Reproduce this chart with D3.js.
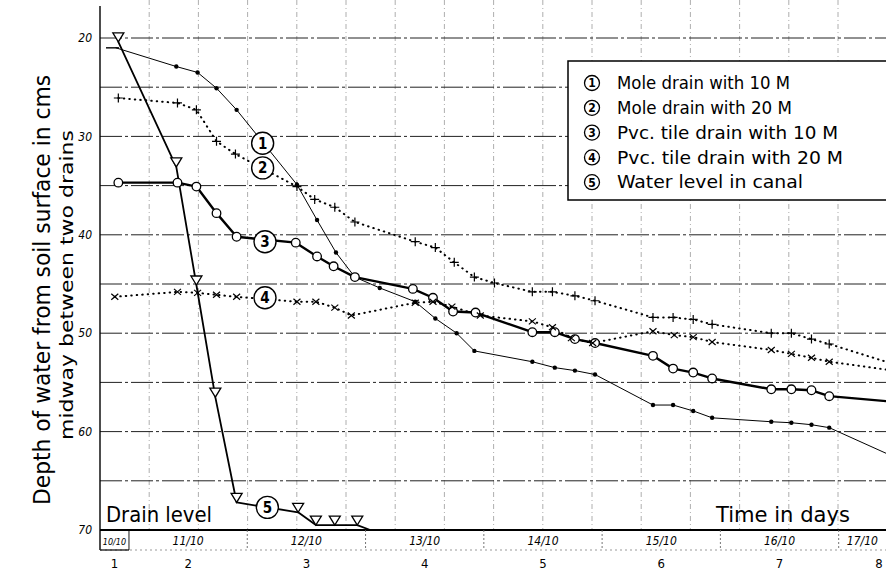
<!DOCTYPE html>
<html>
<head>
<meta charset="utf-8">
<script src="https://cdn.jsdelivr.net/npm/d3@7"></script>
<style>
body { margin: 0; background: #fff; }
svg { display: block; }
</style>
</head>
<body>
<script>
// time = day of October (fractional), depth = cm below soil surface

var mole10Time  = [10.89, 11.40, 11.58, 11.74, 11.91, 12.42, 12.59, 12.75, 12.91, 13.12, 13.42, 13.59, 13.77, 13.92, 14.41, 14.60, 14.77, 14.94, 15.43, 15.60, 15.77, 15.93, 16.43, 16.60, 16.77, 16.92, 17.40];
var mole10Depth = [21.0, 22.9, 23.5, 25.1, 27.3, 34.9, 38.5, 41.8, 44.3, 45.4, 46.8, 48.5, 50.0, 51.8, 52.9, 53.5, 53.8, 54.2, 57.3, 57.3, 57.9, 58.6, 59.0, 59.1, 59.3, 59.6, 62.2];

var mole20Time  = [10.91, 11.41, 11.57, 11.74, 11.90, 12.42, 12.57, 12.74, 12.91, 13.42, 13.59, 13.75, 13.92, 14.09, 14.41, 14.58, 14.77, 14.94, 15.43, 15.60, 15.77, 15.93, 16.43, 16.60, 16.77, 16.92, 17.40];
var mole20Depth = [26.1, 26.6, 27.3, 30.5, 31.8, 35.1, 36.4, 37.2, 38.7, 40.7, 41.3, 42.8, 44.3, 44.9, 45.8, 45.8, 46.2, 46.7, 48.4, 48.4, 48.6, 49.1, 50.0, 50.0, 50.6, 51.1, 52.9];

var pvc10Time  = [10.91, 11.41, 11.57, 11.74, 11.91, 12.41, 12.59, 12.73, 12.91, 13.40, 13.57, 13.74, 13.93, 14.41, 14.60, 14.77, 14.94, 15.43, 15.60, 15.77, 15.93, 16.43, 16.60, 16.77, 16.92, 17.40];
var pvc10Depth = [34.7, 34.7, 35.1, 37.8, 40.2, 40.8, 42.2, 43.2, 44.3, 45.5, 46.4, 47.8, 47.9, 49.9, 49.9, 50.6, 51.0, 52.3, 53.6, 54.0, 54.6, 55.7, 55.7, 55.8, 56.4, 56.9];

var pvc20Time  = [10.88, 11.41, 11.58, 11.74, 11.91, 12.42, 12.58, 12.74, 12.88, 13.42, 13.57, 13.73, 13.97, 14.41, 14.58, 14.74, 14.92, 15.43, 15.61, 15.77, 15.93, 16.43, 16.60, 16.77, 16.92, 17.40];
var pvc20Depth = [46.3, 45.8, 45.9, 46.1, 46.3, 46.8, 46.8, 47.4, 48.2, 46.9, 46.8, 47.3, 48.2, 48.8, 49.4, 50.5, 51.0, 49.8, 50.2, 50.4, 50.9, 51.7, 52.1, 52.5, 52.9, 53.7];

var canalTime  = [10.91, 11.40, 11.57, 11.73, 11.91, 12.43, 12.58, 12.74, 12.93, 13.04];
var canalDepth = [20.4, 33.1, 45.1, 56.5, 67.2, 68.2, 69.5, 69.5, 69.5, 70.0];

// numbered circles sitting on the curves
var tagTime  = [12.13, 12.13, 12.15, 12.15, 12.17];
var tagDepth = [30.7, 33.2, 40.7, 46.4, 67.7];

var legendLabels = ["Mole drain with 10 M", "Mole drain with 20 M", "Pvc. tile drain with 10 M", "Pvc. tile drain with 20 M", "Water level in canal"];
var dateLabels = ["10/10", "11/10", "12/10", "13/10", "14/10", "15/10", "16/10", "17/10"];
var dayLabels = [1, 2, 3, 4, 5, 6, 7, 8];
var depthTicks = [20, 30, 40, 50, 60, 70];

var W = 886, H = 572;
var x = d3.scaleLinear().domain([10.755, 17.40]).range([100, 886]);
var y = d3.scaleLinear().domain([20, 70]).range([38, 530]);

var svg = d3.select("body").append("svg")
    .attr("width", W)
    .attr("height", H)
    .style("font-family", "'DejaVu Sans Condensed', 'DejaVu Sans', sans-serif");

// graph paper: vertical lines every 5 cm square
var step = y(25) - y(20);
var gridX = d3.range(100 + step, W, step);
svg.append("g").selectAll("line").data(gridX).enter().append("line")
    .attr("x1", function(d) { return d; }).attr("x2", function(d) { return d; })
    .attr("y1", 0).attr("y2", y(70))
    .style("stroke", "#999").style("stroke-width", 0.8)
    .style("stroke-dasharray", "5,3,1,3");

// horizontal lines every 5 cm
svg.append("g").selectAll("line").data(d3.range(20, 70, 5)).enter().append("line")
    .attr("x1", 100).attr("x2", W)
    .attr("y1", function(d) { return y(d); }).attr("y2", function(d) { return y(d); })
    .style("stroke", "#222").style("stroke-width", 1)
    .style("stroke-dasharray", "22,3,3,3");

// left axis and drain level
svg.append("line").attr("x1", 100).attr("x2", 100).attr("y1", 6).attr("y2", y(70) + 20)
    .style("stroke", "#000").style("stroke-width", 1.4);
svg.append("line").attr("x1", 100).attr("x2", W).attr("y1", y(70)).attr("y2", y(70))
    .style("stroke", "#000").style("stroke-width", 2.2);

// date strip
var stripTop = y(70), stripBot = y(70) + 20;
svg.append("line").attr("x1", 100).attr("x2", W).attr("y1", stripBot).attr("y2", stripBot)
    .style("stroke", "#999").style("stroke-width", 1).style("stroke-dasharray", "2,3");
svg.append("line").attr("x1", 100).attr("x2", x(11)).attr("y1", stripBot).attr("y2", stripBot)
    .style("stroke", "#000").style("stroke-width", 1.2);

var dayStart = d3.range(10, 18);
svg.append("g").selectAll("line").data(dayStart.slice(1)).enter().append("line")
    .attr("x1", function(d) { return x(d); }).attr("x2", function(d) { return x(d); })
    .attr("y1", stripTop).attr("y2", stripBot)
    .style("stroke", function(d, i) { return i == 0 ? "#000" : "#666"; })
    .style("stroke-width", 0.9)
    .style("stroke-dasharray", function(d, i) { return i == 0 ? null : "2,2"; });

function cellMid(d) {
    var a = Math.max(d, x.domain()[0]), b = Math.min(d + 1, x.domain()[1]);
    return x((a + b) / 2);
}

svg.append("g").selectAll("text").data(dateLabels).enter().append("text")
    .attr("x", function(d, i) { return cellMid(dayStart[i]); })
    .attr("y", stripBot - 5)
    .attr("text-anchor", "middle")
    .style("font-size", function(d, i) { return i == 0 ? "9px" : "12px"; })
    .style("font-style", "italic")
    .text(function(d) { return d; });

svg.append("g").selectAll("text").data(dayLabels).enter().append("text")
    .attr("x", function(d, i) { return i == dayLabels.length - 1 ? W - 7 : cellMid(dayStart[i]); })
    .attr("y", 568)
    .attr("text-anchor", "middle")
    .style("font-size", "13px")
    .text(function(d) { return d; });

// depth ticks
svg.append("g").selectAll("text").data(depthTicks).enter().append("text")
    .attr("x", 92)
    .attr("y", function(d) { return y(d); })
    .attr("dy", "0.35em")
    .attr("text-anchor", "end")
    .style("font-size", "12px")
    .style("font-style", "italic")
    .text(function(d) { return d; });

// axis titles
svg.append("text")
    .attr("transform", "translate(50,290) rotate(-90)")
    .attr("text-anchor", "middle")
    .attr("textLength", 430).attr("lengthAdjust", "spacingAndGlyphs")
    .style("font-size", "23px")
    .text("Depth of water from soil surface in cms");
svg.append("text")
    .attr("transform", "translate(73,285) rotate(-90)")
    .attr("text-anchor", "middle")
    .attr("textLength", 310).attr("lengthAdjust", "spacingAndGlyphs")
    .style("font-size", "18px")
    .text("midway between two drains");

svg.append("text").attr("x", 106).attr("y", 522)
    .attr("textLength", 106).attr("lengthAdjust", "spacingAndGlyphs")
    .style("font-size", "21px").text("Drain level");
svg.append("text").attr("x", 716).attr("y", 522)
    .attr("textLength", 134).attr("lengthAdjust", "spacingAndGlyphs")
    .style("font-size", "21px").text("Time in days");

// curves
function pts(t, d) { return t.map(function(v, i) { return [x(v), y(d[i])]; }); }
var line = d3.line();

var series = [
    { p: pts(mole10Time, mole10Depth), w: 1, dash: null },
    { p: pts(mole20Time, mole20Depth), w: 2, dash: "0.5,5" },
    { p: pts(pvc10Time, pvc10Depth), w: 2.4, dash: null },
    { p: pts(pvc20Time, pvc20Depth), w: 2, dash: "0.5,5" },
    { p: pts(canalTime, canalDepth), w: 1.8, dash: null }
];

series.forEach(function(s) {
    svg.append("path")
        .attr("d", line(s.p))
        .style("fill", "none")
        .style("stroke", "#000")
        .style("stroke-width", s.w)
        .style("stroke-linecap", "round")
        .style("stroke-linejoin", "round")
        .style("stroke-dasharray", s.dash);
});

// markers
var m1 = series[0].p;
svg.append("line").attr("x1", m1[0][0] - 10).attr("x2", m1[0][0] + 3)
    .attr("y1", m1[0][1]).attr("y2", m1[0][1]).style("stroke", "#000").style("stroke-width", 1.4);
svg.append("g").selectAll("circle").data(m1.slice(1, -1)).enter().append("circle")
    .attr("cx", function(d) { return d[0]; }).attr("cy", function(d) { return d[1]; })
    .attr("r", 2.2).style("fill", "#000");

svg.append("g").selectAll("path").data(series[1].p.slice(0, -1)).enter().append("path")
    .attr("d", function(d) { return "M" + (d[0] - 4.5) + "," + d[1] + "h9M" + d[0] + "," + (d[1] - 4.5) + "v9"; })
    .style("stroke", "#000").style("stroke-width", 1.2);

svg.append("g").selectAll("circle").data(series[2].p.slice(0, -1)).enter().append("circle")
    .attr("cx", function(d) { return d[0]; }).attr("cy", function(d) { return d[1]; })
    .attr("r", 4.3).style("fill", "#fff").style("stroke", "#000").style("stroke-width", 1.3);

svg.append("g").selectAll("path").data(series[3].p.slice(0, -1)).enter().append("path")
    .attr("d", function(d) { return "M" + (d[0] - 3.5) + "," + (d[1] - 3) + "l7,6M" + (d[0] + 3.5) + "," + (d[1] - 3) + "l-7,6"; })
    .style("stroke", "#000").style("stroke-width", 1.2);

svg.append("g").selectAll("path").data(series[4].p.slice(0, -1)).enter().append("path")
    .attr("d", function(d) { return "M" + d[0] + "," + d[1] + "l-5.5,-9h11z"; })
    .style("fill", "#fff").style("stroke", "#000").style("stroke-width", 1.3);

// numbered tags on the curves
var tags = svg.append("g").selectAll("g").data(tagTime).enter().append("g")
    .attr("transform", function(d, i) { return "translate(" + x(d) + "," + y(tagDepth[i]) + ")"; });
tags.append("circle").attr("r", 11)
    .style("fill", "#fff").style("stroke", "#000").style("stroke-width", 1.4);
tags.append("text").attr("text-anchor", "middle").attr("dy", "0.36em")
    .style("font-size", "15px").style("font-weight", "bold")
    .text(function(d, i) { return i + 1; });

// legend
var legend = svg.append("g");
legend.append("rect").attr("x", 568).attr("y", 61).attr("width", 330).attr("height", 139)
    .style("fill", "#fff").style("stroke", "#000").style("stroke-width", 1.5);
var legendLen = [173, 175, 221, 226, 186];
var items = legend.selectAll("g").data(legendLabels).enter().append("g")
    .attr("transform", function(d, i) { return "translate(592," + (83 + i * 24.8) + ")"; });
items.append("circle").attr("r", 7.5)
    .style("fill", "#fff").style("stroke", "#000").style("stroke-width", 1.3);
items.append("text").attr("text-anchor", "middle").attr("dy", "0.36em")
    .style("font-size", "12px").style("font-weight", "bold")
    .text(function(d, i) { return i + 1; });
items.append("text").attr("x", 25).attr("dy", "0.36em")
    .attr("textLength", function(d, i) { return legendLen[i]; })
    .attr("lengthAdjust", "spacingAndGlyphs")
    .style("font-size", "17px")
    .text(function(d) { return d; });
</script>
</body>
</html>
